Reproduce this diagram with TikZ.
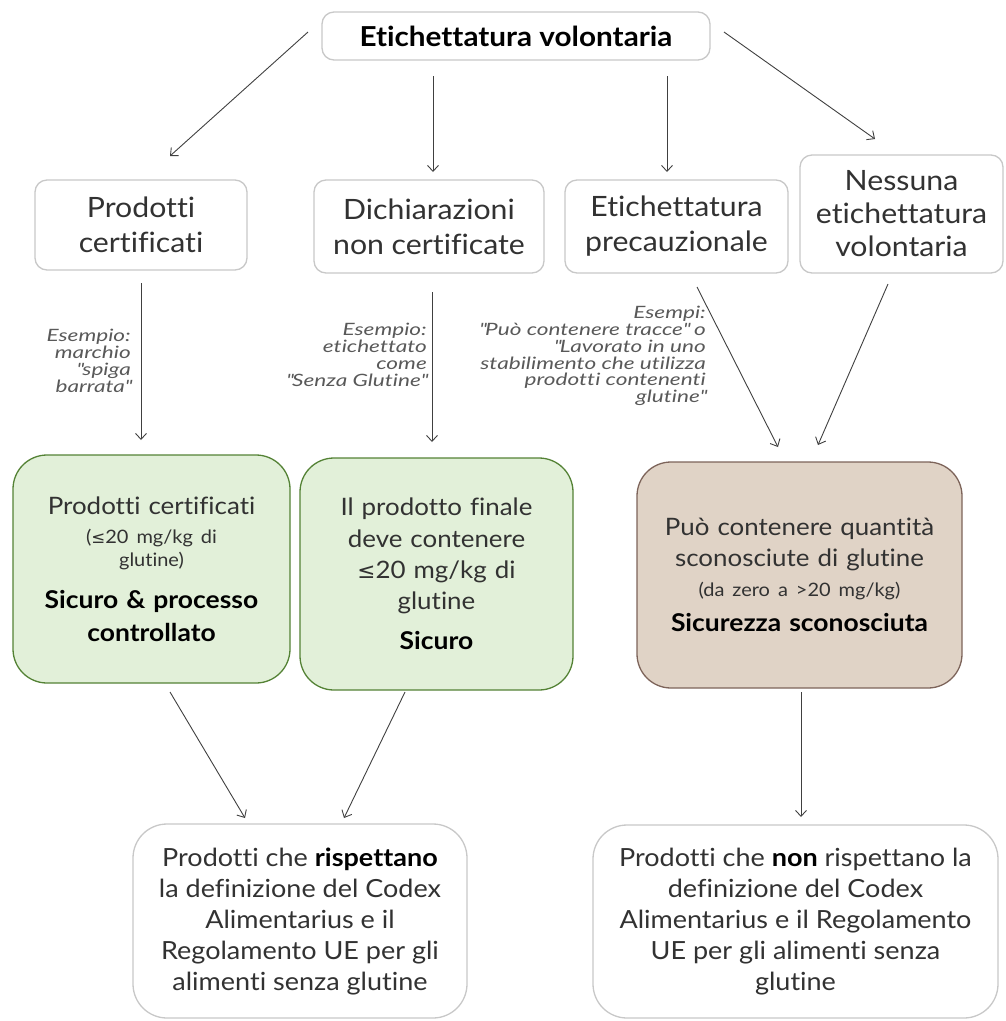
\documentclass[tikz,border=0pt]{standalone}
\usepackage{fontspec}
\setmainfont{Lato}[FakeStretch=1.08, Ligatures={TeX,NoCommon}]
\newfontfamily\notef{Lato}[FakeStretch=1.33, Ligatures={TeX,NoCommon}]
\newfontfamily\symf{DejaVu Sans}
\usetikzlibrary{arrows.meta}
\definecolor{gfill}{RGB}{226,240,217}
\definecolor{gdraw}{RGB}{84,130,53}
\definecolor{bfill}{RGB}{224,211,198}
\definecolor{bdraw}{RGB}{125,100,90}
\definecolor{gline}{RGB}{200,200,200}
\definecolor{txt}{RGB}{50,50,50}
\newcommand{\leqs}{{\symf\fontsize{0.9em}{1em}\selectfont ≤}}
\newcommand{\qq}{\textquotedbl}
\newcommand{\smalltxt}{\fontsize{18.5}{22}\selectfont}
\newcommand{\bigb}[1]{{\color{black}\bfseries\fontsize{24.5}{30}\selectfont #1}}
\tikzset{
  boxw/.style={draw=gline, line width=1.3pt, fill=white, rounded corners=12pt, align=center, inner sep=0pt, text=txt},
  rowtxt/.style={font=\fontsize{28}{35}\selectfont},
  greenbox/.style={draw=gdraw, line width=1.3pt, fill=gfill, rounded corners=34pt, align=center, inner sep=0pt, text=txt},
  brownbox/.style={draw=bdraw, line width=1.3pt, fill=bfill, rounded corners=34pt, align=center, inner sep=0pt, text=txt},
  finalbox/.style={draw=gline, line width=1.3pt, fill=white, rounded corners=34pt, align=center, inner sep=0pt, text=txt, font=\fontsize{25}{31}\selectfont},
  note/.style={align=right, inner sep=0pt, text=black!65, font=\notef\itshape\fontsize{17}{16.8}\selectfont},
  arr/.style={draw=black!75, line width=0.9pt, -{Straight Barb[length=6pt,width=11pt]}},
}
\begin{document}
\begin{tikzpicture}[x=1pt,y=-1pt]
\useasboundingbox (0,0) rectangle (1005,1021);
% top
\node[boxw, text=black, minimum width=388, minimum height=48, font=\bfseries\fontsize{27.5}{32}\selectfont] (top) at (516,36) {Etichettatura volontaria};
% second row
\node[boxw, rowtxt, minimum width=212, minimum height=90] (b1) at (141,225) {Prodotti\\certificati};
\node[boxw, rowtxt, minimum width=230, minimum height=93] (b2) at (429,226.5) {Dichiarazioni\\non certificate};
\node[boxw, rowtxt, minimum width=223, minimum height=93] (b3) at (676.5,226.5) {Etichettatura\\precauzionale};
\node[boxw, rowtxt, minimum width=203, minimum height=118, font=\fontsize{28}{33}\selectfont] (b4) at (901.5,214) {Nessuna\\etichettatura\\volontaria};
% third row
\node[greenbox, minimum width=277, minimum height=228, text width=267, font=\fontsize{24}{33}\selectfont] (g1) at (151.5,569) {Prodotti certificati\\[-4pt]{\smalltxt (\leqs20 mg/kg di}\\[-10pt]{\smalltxt glutine)}\\[9pt]\bigb{Sicuro \& processo}\\\bigb{controllato}};
\node[greenbox, minimum width=273, minimum height=232, text width=263, font=\fontsize{24}{31}\selectfont] (g2) at (436.5,574) {Il prodotto finale\\[1pt]deve contenere\\\leqs20 mg/kg di\\glutine\\[9pt]\bigb{Sicuro}};
\node[brownbox, minimum width=325, minimum height=226, text width=315, font=\fontsize{24}{31}\selectfont] (br) at (799.5,575) {Può contenere quantità\\sconosciute di glutine\\[-1pt]{\smalltxt (da zero a >20 mg/kg)}\\[4pt]\bigb{Sicurezza sconosciuta}};
% bottom row
\node[finalbox, minimum width=334, minimum height=194] (f1) at (300,921) {Prodotti che {\color{black}\bfseries rispettano}\\la definizione del Codex\\Alimentarius e il\\Regolamento UE per gli\\alimenti senza glutine};
\node[finalbox, minimum width=405, minimum height=193] (f2) at (795.5,921.5) {Prodotti che {\color{black}\bfseries non} rispettano la\\definizione del Codex\\Alimentarius e il Regolamento\\UE per gli alimenti senza\\glutine};
% notes
\node[note, anchor=north east] (n1) at (131,329) {Esempio:\\marchio\\\qq spiga\\barrata\qq};
\node[note, anchor=north east] (n2) at (427,323) {Esempio:\\etichettato\\come\\\qq Senza Glutine\qq};
\node[note, anchor=north east] (n3) at (706,306) {Esempi:\\\qq Può contenere tracce\qq{} o\\\qq Lavorato in uno\\stabilimento che utilizza\\prodotti contenenti\\glutine\qq};
% connector end points
\coordinate (s1) at (308,32);  \coordinate (e1) at (170,156);
\coordinate (s2) at (433,76);  \coordinate (e2) at (433,172);
\coordinate (s3) at (667,76);  \coordinate (e3) at (667,172);
\coordinate (s4) at (724,32);  \coordinate (e4) at (875,139);
\coordinate (s5) at (141,283); \coordinate (e5) at (141,440);
\coordinate (s6) at (432,292); \coordinate (e6) at (432,442);
\coordinate (s7) at (697,287); \coordinate (e7) at (778,447);
\coordinate (s8) at (888,284); \coordinate (e8) at (818,445);
\coordinate (s9) at (170,692); \coordinate (e9) at (245,818);
\coordinate (s10) at (405,692); \coordinate (e10) at (344,818);
\coordinate (s11) at (801,692); \coordinate (e11) at (801,817);
\draw[arr] (s1) -- (e1);
\draw[arr] (s2) -- (e2);
\draw[arr] (s3) -- (e3);
\draw[arr] (s4) -- (e4);
\draw[arr] (s5) -- (e5);
\draw[arr] (s6) -- (e6);
\draw[arr] (s7) -- (e7);
\draw[arr] (s8) -- (e8);
\draw[arr] (s9) -- (e9);
\draw[arr] (s10) -- (e10);
\draw[arr] (s11) -- (e11);
\end{tikzpicture}
\end{document}
